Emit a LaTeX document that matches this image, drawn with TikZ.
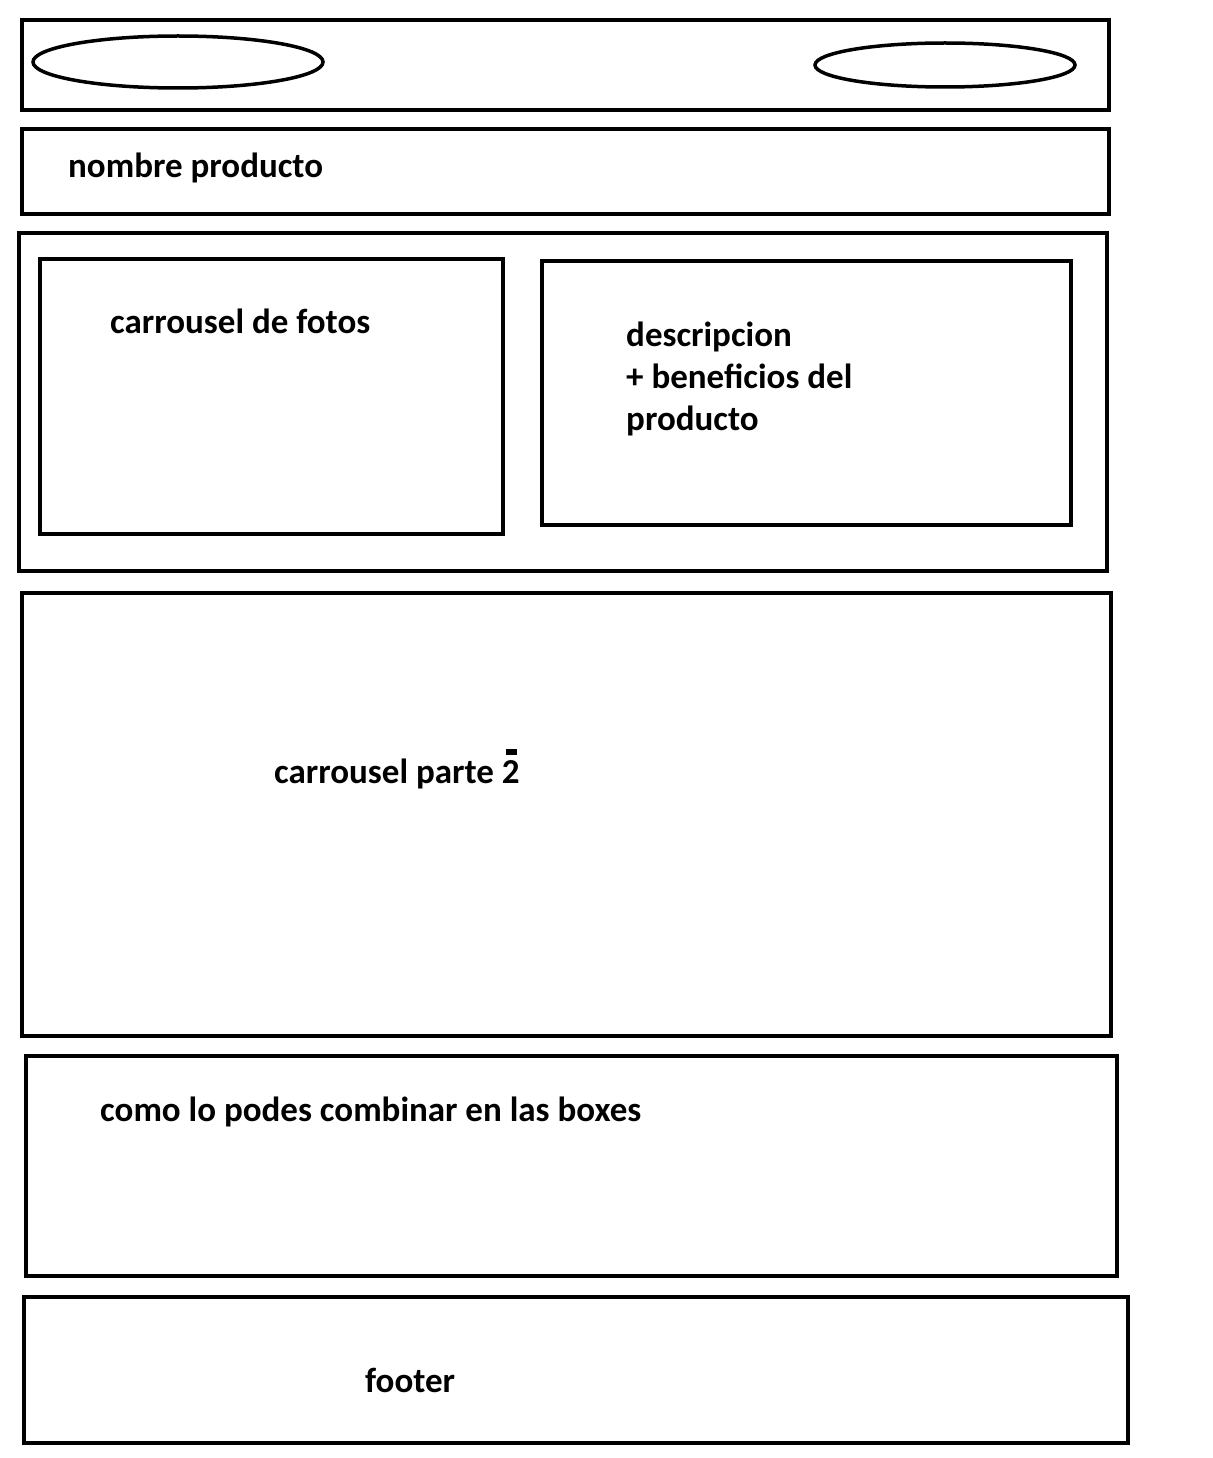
\documentclass[tikz,border=0pt]{standalone}
\usepackage{fontspec}
\setmainfont{Carlito}
\begin{document}
\begin{tikzpicture}[x=1pt,y=-1pt,
  lbl/.style={anchor=base west,inner sep=0pt,font=\fontsize{35}{42}\selectfont\bfseries,align=left}]
\useasboundingbox (0,0) rectangle (1212,1458);
% boxes
\draw[line width=4pt] (22,20) rectangle (1109,110) node[midway,coordinate] (header) {};
\draw[line width=4pt] (22,129) rectangle (1109,214) node[midway,coordinate] (namebox) {};
\draw[line width=4pt] (19,233) rectangle (1107,571) node[midway,coordinate] (mainbox) {};
\draw[line width=4pt] (40,259) rectangle (503,534) node[midway,coordinate] (photos) {};
\draw[line width=4pt] (542,261) rectangle (1071,525) node[midway,coordinate] (desc) {};
\draw[line width=4pt] (22,593) rectangle (1111,1036) node[midway,coordinate] (carr2) {};
\draw[line width=4pt] (26,1056) rectangle (1117,1276) node[midway,coordinate] (combo) {};
\draw[line width=4pt] (24,1297) rectangle (1128,1443) node[midway,coordinate] (footer) {};
% ovals
\draw[line width=3.5pt] (178,62) ellipse [x radius=145, y radius=26];
\draw[line width=3.5pt] (945,65) ellipse [x radius=130, y radius=22];
% texts
\node[lbl] (t1) at (68,178) {nombre producto};
\node[lbl] (t2) at (110,333) {carrousel de fotos};
\node[lbl] (t3) at (626,346) {descripcion};
\node[lbl] (t4) at (626,388) {+ beneficios del};
\node[lbl] (t5) at (626,430) {producto};
\node[lbl] (t6) at (274,783) {carrousel parte 2};
\node[lbl] (t7) at (100,1121) {como lo podes combinar en las boxes};
\node[lbl] (t8) at (365,1392) {footer};
\fill (506,749) rectangle (517,755);
\end{tikzpicture}
\end{document}
